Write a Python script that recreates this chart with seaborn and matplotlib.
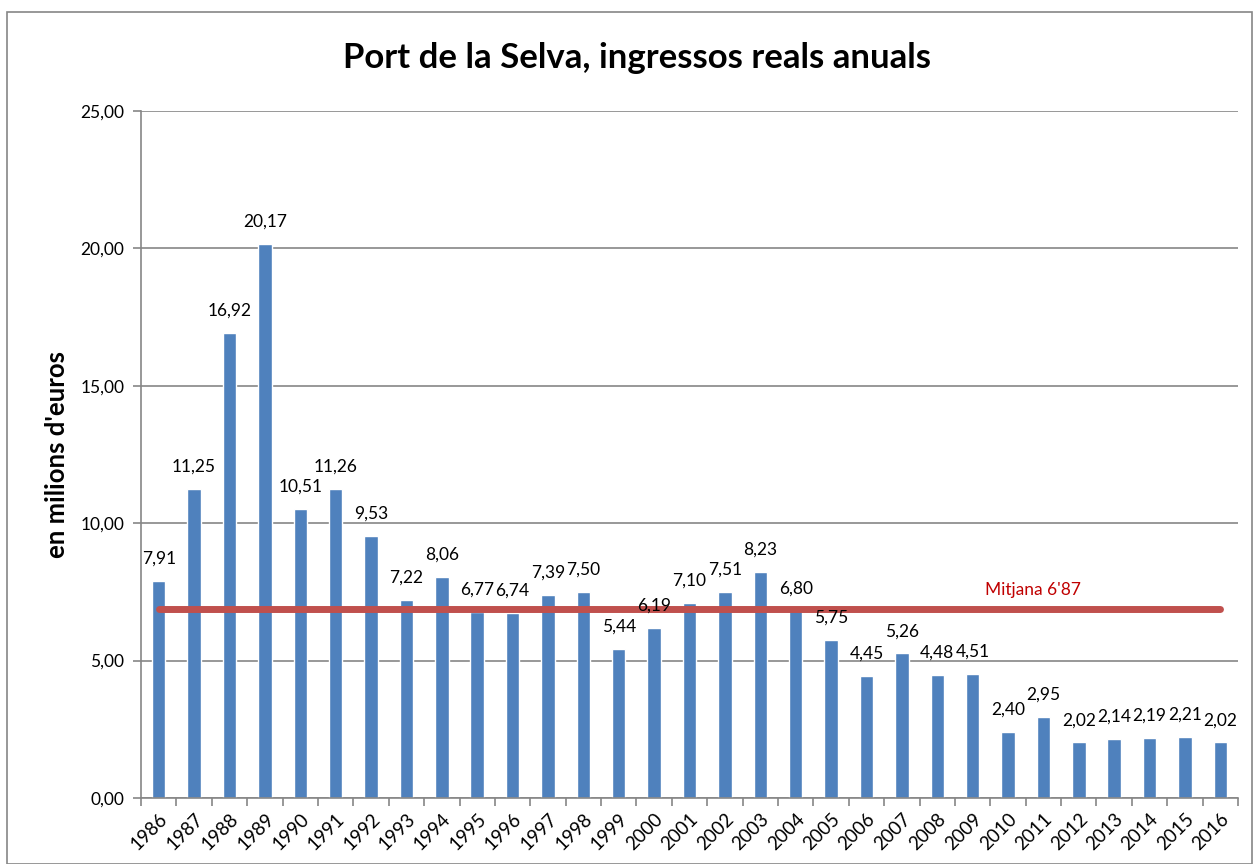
import numpy as np
import pandas as pd
import seaborn as sns
from matplotlib import pyplot as plt
from matplotlib.patches import Rectangle

# dades
years = [str(y) for y in range(1986, 2017)]
ingressos = [7.91, 11.25, 16.92, 20.17, 10.51, 11.26, 9.53, 7.22, 8.06, 6.77,
             6.74, 7.39, 7.50, 5.44, 6.19, 7.10, 7.51, 8.23, 6.80, 5.75,
             4.45, 5.26, 4.48, 4.51, 2.40, 2.95, 2.02, 2.14, 2.19, 2.21, 2.02]
mitjana = 6.87
yticks = [0, 5, 10, 15, 20, 25]

sns.set_theme(style="white")
plt.rcParams["font.family"] = ["Lato", "DejaVu Sans"]
plt.rcParams["text.color"] = "black"
plt.rcParams["xtick.color"] = "black"
plt.rcParams["ytick.color"] = "black"
plt.rcParams["axes.labelcolor"] = "black"

df = pd.DataFrame({"any": years, "ingressos": ingressos})
df["mitjana"] = mitjana

fig = plt.figure(figsize=(12.57, 8.64), dpi=100)
ax = fig.add_axes([0.1122, 0.0764, 0.8727, 0.7951])

sns.barplot(data=df, x="any", y="ingressos", color="#4F81BD", width=0.38,
            saturation=1, ax=ax, zorder=2)
sns.lineplot(data=df, x="any", y="mitjana", color="#C0504D", linewidth=5,
             ax=ax, zorder=3, solid_capstyle="round")

# etiquetes de dades
for i, v in enumerate(ingressos):
    ax.annotate(f"{v:.2f}".replace(".", ","), (i, v), xytext=(0, 16),
                textcoords="offset points", ha="center", va="center",
                fontsize=12.5, color="black")

ax.text(24.7, 7.57, "Mitjana 6'87", color="#C00000", fontsize=12.5,
        ha="center", va="center")

ax.set_ylim(0, 25)
ax.set_xlim(-0.5, len(years) - 0.5)
ax.set_yticks(yticks)
ax.set_yticklabels([f"{t:.2f}".replace(".", ",") for t in yticks], fontsize=12.5)
ax.yaxis.grid(True, color="#868686", linewidth=1.2, zorder=0)
ax.set_axisbelow(True)

# marques de l'eix x entre categories
ax.set_xticks(np.arange(len(years)))
ax.set_xticklabels(years, rotation=45, ha="right", rotation_mode="anchor",
                   fontsize=13.5)
ax.set_xticks(np.arange(len(years) + 1) - 0.5, minor=True)
ax.tick_params(axis="x", which="major", length=0, pad=9)
ax.tick_params(axis="x", which="minor", length=6, width=1.2, color="#868686",
               direction="out", bottom=True)
ax.tick_params(axis="y", length=6, width=1.2, color="#868686", direction="out",
               left=True, pad=6, labelcolor="black")

for s in ["top", "right"]:
    ax.spines[s].set_visible(False)
for s in ["left", "bottom"]:
    ax.spines[s].set_color("#868686")
    ax.spines[s].set_linewidth(1.2)

ax.set_xlabel("")
ax.set_ylabel("en milions d'euros", fontsize=18.5, fontweight="bold", labelpad=8)

fig.text(0.507, 0.933, "Port de la Selva, ingressos reals anuals",
         ha="center", va="center", fontsize=25, fontweight="bold")

fig.patches.append(Rectangle((7 / 1257, 0), 1245 / 1257, 852 / 864,
                             transform=fig.transFigure, fill=False,
                             edgecolor="#868686", linewidth=1.2))

plt.savefig("out.png", dpi=100)
plt.close()
